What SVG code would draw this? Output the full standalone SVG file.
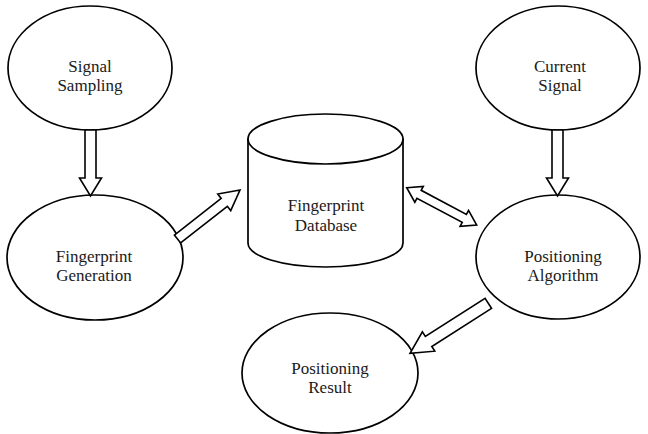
<svg xmlns="http://www.w3.org/2000/svg" width="648" height="434" viewBox="0 0 648 434">
<style>
.shape{fill:#fff;stroke:#000;stroke-width:1.7}
.arrow{fill:#fff;stroke:#000;stroke-width:1.6;stroke-linejoin:miter}
.lbl{font-family:'Liberation Serif','Times New Roman','DejaVu Serif',serif;font-size:17px;fill:#1a1a1a;text-anchor:middle}
</style>
<rect width="648" height="434" fill="#fff"/>
<g id="signal-sampling">
<ellipse class="shape" cx="90" cy="68" rx="82" ry="62"/>
<text class="lbl" font-family="Liberation Serif, serif" x="90" y="72">Signal</text>
<text class="lbl" font-family="Liberation Serif, serif" x="90" y="91">Sampling</text>
</g>
<g id="fingerprint-generation">
<ellipse class="shape" cx="95" cy="257.5" rx="88" ry="62.5"/>
<text class="lbl" font-family="Liberation Serif, serif" x="94" y="262">Fingerprint</text>
<text class="lbl" font-family="Liberation Serif, serif" x="94" y="281">Generation</text>
</g>
<g id="fingerprint-database">
<path class="shape" d="M248,139 L248,243 A77.5,24 0 0 0 403,243 L403,139 Z"/>
<ellipse class="shape" cx="325.5" cy="139" rx="77.5" ry="25"/>
<text class="lbl" font-family="Liberation Serif, serif" x="326" y="211">Fingerprint</text>
<text class="lbl" font-family="Liberation Serif, serif" x="326" y="231">Database</text>
</g>
<g id="current-signal">
<ellipse class="shape" cx="558" cy="68" rx="82" ry="62"/>
<text class="lbl" font-family="Liberation Serif, serif" x="560" y="72">Current</text>
<text class="lbl" font-family="Liberation Serif, serif" x="560" y="91">Signal</text>
</g>
<g id="positioning-algorithm">
<ellipse class="shape" cx="558" cy="257" rx="82" ry="62"/>
<text class="lbl" font-family="Liberation Serif, serif" x="563" y="262">Positioning</text>
<text class="lbl" font-family="Liberation Serif, serif" x="563" y="281">Algorithm</text>
</g>
<g id="positioning-result">
<ellipse class="shape" cx="330" cy="373" rx="88" ry="60"/>
<text class="lbl" font-family="Liberation Serif, serif" x="330" y="374">Positioning</text>
<text class="lbl" font-family="Liberation Serif, serif" x="330" y="393">Result</text>
</g>
<g id="connectors">
<polygon class="arrow" transform="translate(90.5,130) rotate(90)" points="0,-5.5 48,-5.5 48,-11 66,0 48,11 48,5.5 0,5.5"/>
<polygon class="arrow" transform="translate(557.5,130) rotate(90)" points="0,-5.5 48,-5.5 48,-11 66,0 48,11 48,5.5 0,5.5"/>
<polygon class="arrow" transform="translate(177.5,239) rotate(-38.1)" points="0,-5 59.4,-5 59.4,-10.5 79.4,0 59.4,10.5 59.4,5 0,5"/>
<polygon class="arrow" transform="translate(406.7,187.7) rotate(28.05)" points="0,0 14,-9 14,-4.5 65.3,-4.5 65.3,-9 79.3,0 65.3,9 65.3,4.5 14,4.5 14,9"/>
<polygon class="arrow" transform="translate(488.3,303.3) rotate(147.4)" points="0,-6 70.9,-6 70.9,-11.5 92.9,0 70.9,11.5 70.9,6 0,6"/>
</g>
</svg>
